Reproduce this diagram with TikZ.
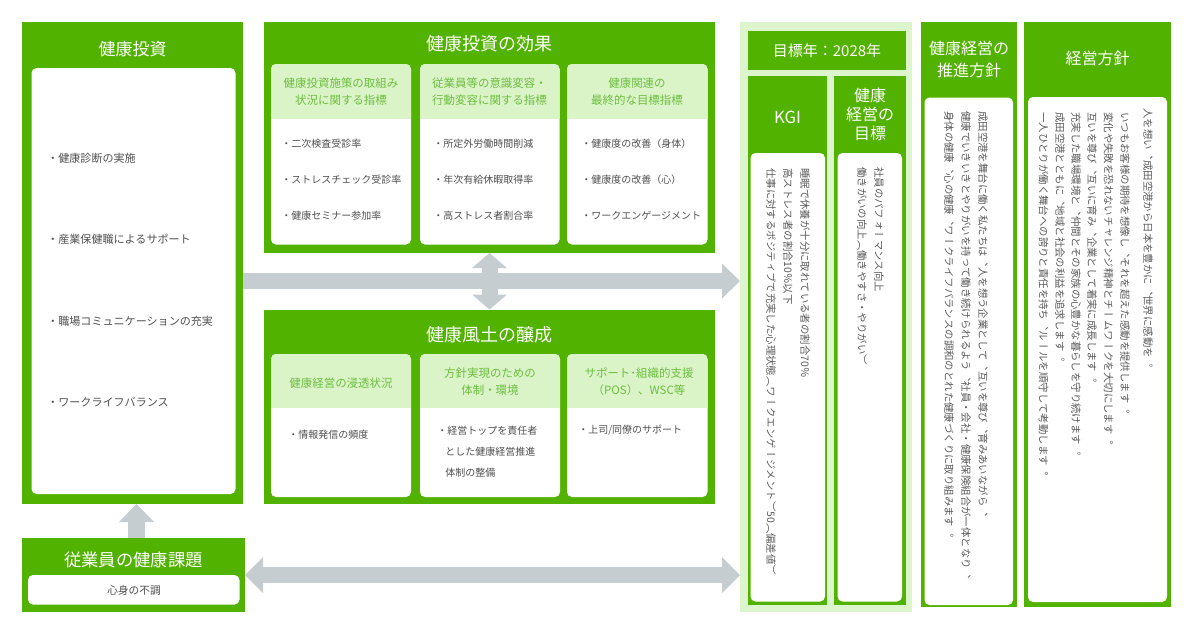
\documentclass[tikz,border=0pt]{standalone}
\usepackage{fontspec}
\setmainfont{Noto Sans CJK JP}
\newfontfamily\vjp[Vertical=RotatedGlyphs]{Noto Sans CJK JP}
\usetikzlibrary{arrows.meta}
\definecolor{gr}{RGB}{82,178,0}
\definecolor{lg}{RGB}{220,245,205}
\definecolor{hd}{RGB}{218,244,200}
\definecolor{hdt}{RGB}{110,190,65}
\definecolor{ar}{RGB}{197,205,208}
\definecolor{tx}{RGB}{80,80,80}
\definecolor{vtx}{RGB}{90,90,90}
\begin{document}
\begin{tikzpicture}[x=0.75pt,y=-0.75pt,
  ttl/.style={text=white, inner sep=0, align=center, font=\fontsize{12.75}{15}\selectfont},
  item/.style={anchor=west, inner sep=0, text=tx, font=\fontsize{7.5}{9}\selectfont},
  litem/.style={anchor=west, inner sep=0, text=tx, font=\fontsize{8.3}{10}\selectfont},
  hdtext/.style={text=hdt, inner sep=0, align=center, font=\fontsize{8.6}{12.75}\selectfont},
  vtext/.style={rotate=-90, anchor=west, inner sep=0, text=vtx, font=\vjp\fontsize{7.8}{9}\selectfont},
  wbox/.style={fill=white, rounded corners=3.75pt},
  blk/.style={draw=ar, line width=12pt},
]
\useasboundingbox (0,0) rectangle (1200,629);

% ---------- left: health investment ----------
\fill[gr] (22,22) rectangle (243,504);
\node[ttl] (tinvest) at (132.5,49) {健康投資};
\fill[wbox] (31.5,68) rectangle (235.5,494);
\node[litem] (i1) at (47,158.5) {・健康診断の実施};
\node[litem] (i2) at (47,239.5) {・産業保健職によるサポート};
\node[litem] (i3) at (47,321) {・職場コミュニケーションの充実};
\node[litem] (i4) at (47,402) {・ワークライフバランス};

% ---------- employee health issue ----------
\fill[gr] (22,538) rectangle (245,611.5);
\node[ttl, font=\fontsize{13}{15}\selectfont] (tissue) at (133.5,559.5) {従業員の健康課題};
\fill[wbox] (28,575) rectangle (239.5,604.5);
\node[inner sep=0, text=tx, font=\fontsize{8}{10}\selectfont] (issue) at (134,590) {心身の不調};

% ---------- effect of investment ----------
\fill[gr] (264,22) rectangle (715,253);
\node[ttl, font=\fontsize{13.5}{16}\selectfont] (teffect) at (489.5,43.5) {健康投資の効果};
\foreach \xa/\xb in {271/411, 420/559.5, 567/707.5}{
  \fill[wbox] (\xa,64) rectangle (\xb,244.5);
  \begin{scope}
    \clip[rounded corners=3.75pt] (\xa,64) rectangle (\xb,244.5);
    \fill[hd] (\xa,64) rectangle (\xb,118.5);
  \end{scope}
}
\node[hdtext] (h1) at (341,91.5) {健康投資施策の取組み\\状況に関する指標};
\node[hdtext] (h2) at (489.5,91.5) {従業員等の意識変容・\\行動変容に関する指標};
\node[hdtext] (h3) at (637,91.5) {健康関連の\\最終的な目標指標};
\node[item] (e11) at (281,143.5) {・二次検査受診率};
\node[item] (e12) at (281,180) {・ストレスチェック受診率};
\node[item] (e13) at (281,216) {・健康セミナー参加率};
\node[item] (e21) at (433,143.5) {・所定外労働時間削減};
\node[item] (e22) at (433,180) {・年次有給休暇取得率};
\node[item] (e23) at (433,216) {・高ストレス者割合率};
\node[item] (e31) at (581,143.5) {・健康度の改善（身体）};
\node[item] (e32) at (581,180) {・健康度の改善（心）};
\node[item] (e33) at (581,216) {・ワークエンゲージメント};

% ---------- culture ----------
\fill[gr] (264,309.5) rectangle (715,504);
\node[ttl, font=\fontsize{13.5}{16}\selectfont] (tculture) at (489.5,335) {健康風土の醸成};
\foreach \xa/\xb in {271/411, 420/560, 567/707.5}{
  \fill[wbox] (\xa,354) rectangle (\xb,497);
  \begin{scope}
    \clip[rounded corners=3.75pt] (\xa,354) rectangle (\xb,497);
    \fill[hd] (\xa,354) rectangle (\xb,407.5);
  \end{scope}
}
\node[hdtext] (c1) at (341,383.5) {健康経営の浸透状況};
\node[hdtext] (c2) at (490,382) {方針実現のための\\体制・環境};
\node[hdtext] (c3) at (639,382) {サポート･組織的支援\\（POS）、WSC等};
\node[item] (f11) at (288,435) {・情報発信の頻度};
\node[item] (f21) at (437,431) {・経営トップを責任者};
\node[item] (f22) at (445,452) {とした健康経営推進};
\node[item] (f23) at (445,473) {体制の整備};
\node[item] (f31) at (578,430) {・上司/同僚のサポート};

% ---------- goal panel ----------
\fill[lg] (740,22) rectangle (912,612);
\fill[gr] (748,31) rectangle (905.5,70);
\node[ttl, font=\fontsize{11.25}{13}\selectfont] (tyear) at (827,50.5) {目標年：2028年};
\fill[gr] (748,76) rectangle (827,605);
\node[ttl, font=\fontsize{12.5}{14}\selectfont] (tkgi) at (787.5,117) {KGI};
\fill[wbox] (750.5,153) rectangle (825,601.5);
\fill[gr] (834,76) rectangle (905.5,605);
\node[ttl, font=\fontsize{12}{14.25}\selectfont] (tgoal) at (870,114) {健康\\経営の\\目標};
\fill[wbox] (837.5,153) rectangle (902,601.5);

\node[vtext] (k1) at (805,168) {睡眠で休養が十分に取れている者の割合70％};
\node[vtext] (k2) at (788,168) {高ストレス者の割合10％以下};
\node[vtext] (k3) at (771,168) {仕事に対するポジティブで充実した心理状態（ワークエンゲージメント）50（偏差値）};
\node[vtext] (g1) at (879,167) {社員のパフォーマンス向上};
\node[vtext] (g2) at (862,167) {働きがいの向上（働きやすさ・やりがい）};

% ---------- promotion policy ----------
\fill[gr] (921,22) rectangle (1017,607);
\node[ttl, font=\fontsize{12}{16.5}\selectfont] (tpromo) at (969,59) {健康経営の\\推進方針};
\fill[wbox] (924.5,97.5) rectangle (1013,605);
\node[vtext] (p1) at (983,111) {成田空港を舞台に働く私たちは、人を想う企業として、互いを尊び、育みあいながら、};
\node[vtext] (p2) at (966,111) {健康でいきいきとやりがいを持って働き続けられるよう、社員・会社・健康保険組合が一体となり、};
\node[vtext] (p3) at (949,111) {身体の健康、心の健康、ワークライフバランスの調和のとれた健康づくりに取り組みます。};

% ---------- management policy ----------
\fill[gr] (1024,22) rectangle (1171,606.5);
\node[ttl, font=\fontsize{12}{14}\selectfont] (tmgmt) at (1097.5,58.5) {経営方針};
\fill[wbox] (1028,97) rectangle (1167,602);
\node[vtext] (m1) at (1148,108) {人を想い、成田空港から日本を豊かに、世界に感動を。};
\node[vtext] (m2) at (1125,112) {いつもお客様の期待を想像し、それを超えた感動を提供します。};
\node[vtext] (m3) at (1108.5,112) {変化や失敗を恐れないチャレンジ精神とチームワークを大切にします。};
\node[vtext] (m4) at (1092,112) {互いを尊び、互いに育み、企業として着実に成長します。};
\node[vtext] (m5) at (1076,112) {充実した職場環境と、仲間とその家族の心豊かな暮らしを守り続けます。};
\node[vtext] (m6) at (1060,112) {成田空港とともに、地域と社会の利益を追求します。};
\node[vtext] (m7) at (1043.5,112) {一人ひとりが働く舞台への誇りと責任を持ち、ルールを順守して考動します。};

% ---------- arrows ----------
\coordinate (a1s) at (243,281);
\coordinate (a1e) at (740,281);
\coordinate (a2s) at (489.5,253);
\coordinate (a2e) at (489.5,309.5);
\coordinate (a3s) at (136.5,538);
\coordinate (a3e) at (136.5,504);
\coordinate (a4s) at (245,575);
\coordinate (a4e) at (740,575);
\draw[blk, -{Triangle[length=13.5pt,width=26.25pt,line width=0pt]}] (a1s) -- (a1e);
\draw[blk, {Triangle[length=11.25pt,width=26.25pt,line width=0pt]}-{Triangle[length=11.25pt,width=26.25pt,line width=0pt]}] (a2s) -- (a2e);
\draw[blk, line width=12.75pt, -{Triangle[length=13.5pt,width=26.25pt,line width=0pt]}] (a3s) -- (a3e);
\draw[blk, {Triangle[length=13.5pt,width=27pt,line width=0pt]}-{Triangle[length=13.5pt,width=27pt,line width=0pt]}] (a4s) -- (a4e);
\end{tikzpicture}
\end{document}
